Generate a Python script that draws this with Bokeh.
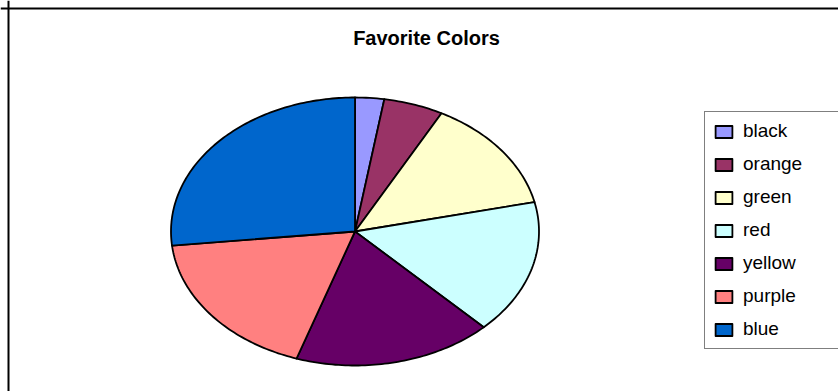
import numpy as np
from bokeh.plotting import figure
from bokeh.models import Range1d, Legend, LegendItem, Label, Span
from bokeh.embed import file_html
from bokeh.resources import INLINE

# ---- data ----
categories = ["black", "orange", "green", "red", "yellow", "purple", "blue"]
values = [2.55, 5.25, 13.7, 16.2, 17.5, 18.2, 26.7]
colors = ["#9999FF", "#993366", "#FFFFCC", "#CCFFFF", "#660066", "#FF8080", "#0066CC"]
title_text = "Favorite Colors"

# ---- layout (pixels) ----
W, H = 838, 391
cx_px, cy_px = 354.5, 231.0      # pie centre in canvas px (from top-left)
rx_px, ry_px = 184.0, 134.0      # ellipse radii in px

x_range = Range1d(-cx_px / rx_px, (W - cx_px) / rx_px)
y_range = Range1d(-(H - cy_px) / ry_px, cy_px / ry_px)

p = figure(width=W, height=H, x_range=x_range, y_range=y_range,
           output_backend="svg", toolbar_location=None,
           min_border=0, outline_line_color=None)
p.axis.visible = False
p.xgrid.visible = False
p.ygrid.visible = False
p.background_fill_color = "white"
p.border_fill_color = "white"

# ---- chart area border (top and left edges visible) ----
p.add_layout(Span(location=x_range.start + 8.0 / rx_px, dimension="height",
                  line_color="black", line_width=2))
p.add_layout(Span(location=y_range.end - 8.0 / ry_px, dimension="width",
                  line_color="black", line_width=2))

# ---- pie slices (unit ellipse, clockwise from 12 o'clock) ----
vals = np.array(values, dtype=float)
fracs = vals / vals.sum()
ends = np.cumsum(fracs) * 2 * np.pi
starts = ends - fracs * 2 * np.pi

items = []
for name, col, a0, a1 in zip(categories, colors, starts, ends):
    n = max(int((a1 - a0) / (2 * np.pi) * 360), 4)
    t = np.linspace(a0, a1, n)
    xs = np.concatenate([[0.0], np.sin(t), [0.0]])
    ys = np.concatenate([[0.0], np.cos(t), [0.0]])
    r = p.patch(xs, ys, fill_color=col, line_color="black", line_width=1.8,
                line_join="round")
    items.append(LegendItem(label=name, renderers=[r]))

legend = Legend(items=items, location=(704, 42),
                border_line_color="black", border_line_width=1,
                background_fill_color="white", background_fill_alpha=1.0,
                padding=8, spacing=11, margin=0,
                glyph_width=21, glyph_height=15, label_standoff=9,
                label_height=20, label_width=120,
                label_text_font="Liberation Sans", label_text_font_size="19px",
                label_text_color="black")
p.add_layout(legend, "center")

# ---- title ----
p.add_layout(Label(x=426, y=H - 37, x_units="screen", y_units="screen",
                   text=title_text, text_align="center", text_baseline="middle",
                   text_font="Liberation Sans", text_font_style="bold",
                   text_font_size="20px", text_color="black"))

open("out.html", "w").write(file_html(p, INLINE))
